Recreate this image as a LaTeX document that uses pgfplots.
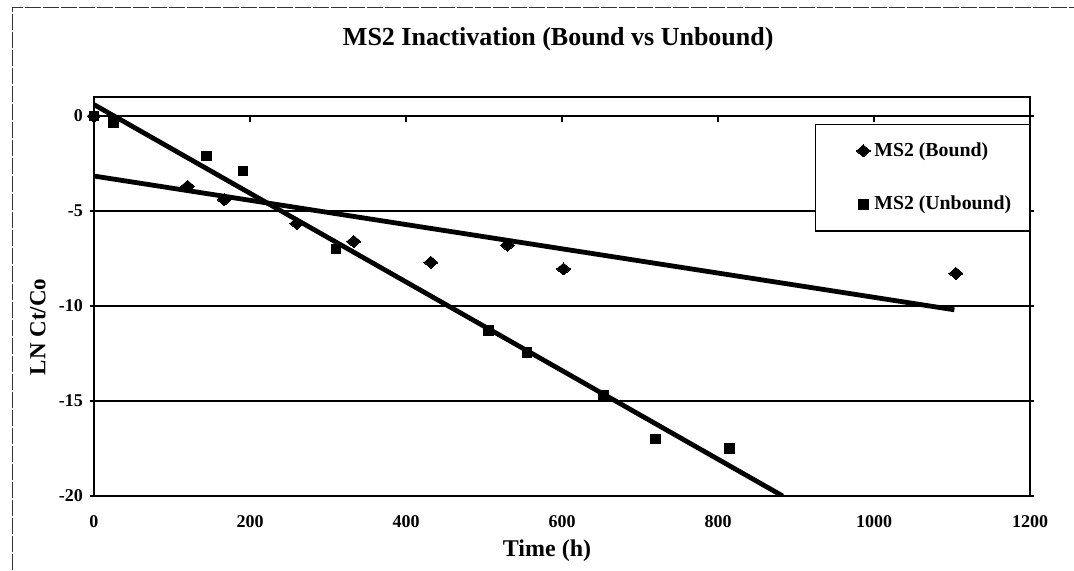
\documentclass[border=0pt]{standalone}
\usepackage{pgfplots}
\pgfplotsset{compat=1.18}
\usepackage{fontspec}
\setmainfont{Liberation Serif}
\begin{document}
\begin{tikzpicture}
\useasboundingbox (0,0) rectangle (537pt,285pt);
\draw[line width=0.5pt, black!80, dash pattern=on 8pt off 1pt] (6pt,0) -- (6pt,281.5pt) -- (537pt,281.5pt);
\begin{axis}[
  at={(47pt,37pt)}, anchor=south west,
  scale only axis, width=468pt, height=199.5pt,
  xmin=0, xmax=1200, ymin=-20, ymax=1,
  xtick={0,200,...,1200}, ytick={0,-5,-10,-15,-20},
  xtick style={draw=none},
  ytick style={line width=0.7pt, black},
  tick align=center, major tick length=4pt,
  ymajorgrids, grid style={line width=0.8pt, black},
  axis line style={line width=0.8pt},
  /pgf/number format/assume math mode=true,
  /pgf/number format/1000 sep={},
  ticklabel style={font=\bfseries\fontsize{9}{10}\selectfont},
  xticklabel style={yshift=-4pt},
  title={MS2 Inactivation (Bound vs Unbound)},
  title style={at={(0.496,1)}, anchor=base, yshift=20pt, font=\bfseries\fontsize{13}{15}\selectfont},
  xlabel={Time (h)},
  xlabel style={at={(axis description cs:0.484,-0.138)}, anchor=center, font=\bfseries\fontsize{12}{14}\selectfont},
  ylabel={LN Ct/Co},
  ylabel style={at={(axis description cs:-0.06,0.424)}, anchor=center, font=\bfseries\fontsize{11.5}{13}\selectfont},
  legend style={at={(1,0.933)}, anchor=north east, draw=black, line width=0.7pt,
    font=\bfseries\fontsize{9.9}{11}\selectfont, inner xsep=7pt, inner ysep=7pt,
    row sep=14.5pt, legend cell align=left},
  legend image code/.code={\path[draw=none, fill=none] (-17pt,0) -- (0pt,0pt); \draw[#1, line width=0pt] plot coordinates {(0pt,0pt)};},
]
\addplot[only marks, mark=diamond*, mark size=3pt, black, mark options={line width=0pt, xscale=1.55}]
  coordinates {(0,0) (120,-3.7) (167,-4.4) (260,-5.65) (333,-6.6) (432,-7.7) (530,-6.8) (602,-8.05) (1105,-8.28)};
\addlegendentry{MS2 (Bound)}
\addplot[only marks, mark=square*, mark size=2.4pt, black, mark options={line width=0pt}]
  coordinates {(0,0) (25,-0.35) (144,-2.1) (191,-2.9) (310,-7.0) (506,-11.3) (555,-12.45) (653,-14.7) (720,-17.0) (815,-17.5)};
\addlegendentry{MS2 (Unbound)}
\addplot[black, line width=2.4pt, forget plot] coordinates {(0,0.6) (883,-20)};
\addplot[black, line width=2.4pt, forget plot] coordinates {(0,-3.16) (1103,-10.2)};
\pgfplotsinvokeforeach{200,400,600,800,1000}{\draw[line width=0.7pt] (axis cs:#1,0) -- ([yshift=-3pt]axis cs:#1,0);}
\end{axis}
\end{tikzpicture}
\end{document}
